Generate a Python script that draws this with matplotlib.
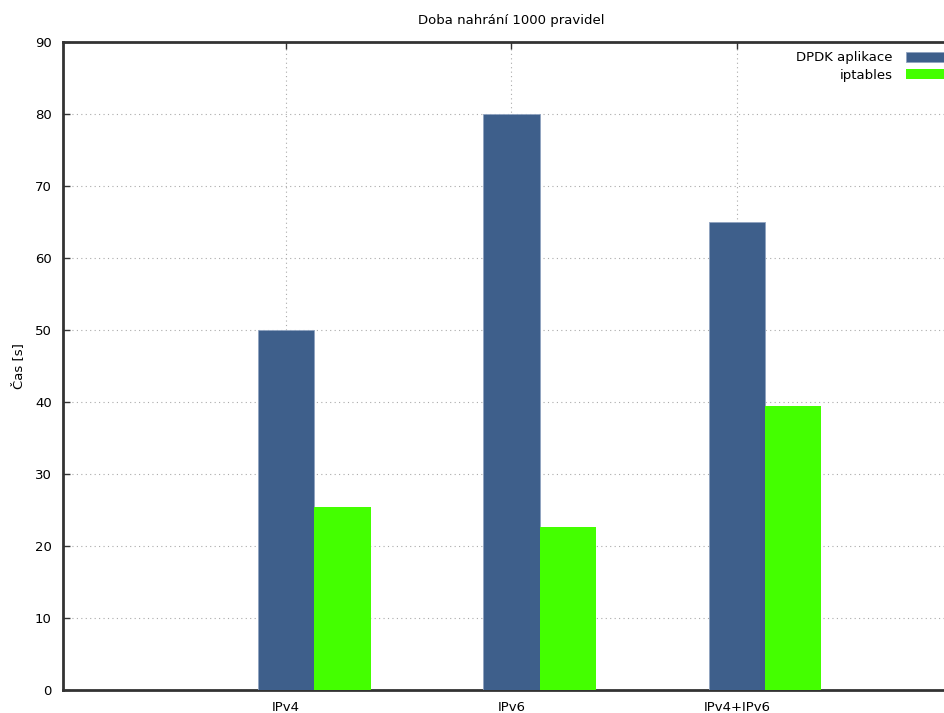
import numpy as np
import matplotlib.pyplot as plt

categories = ["IPv4", "IPv6", "IPv4+IPv6"]
dpdk = [50, 80, 65]
iptables = [25.4, 22.6, 39.4]

x = np.arange(len(categories))
width = 0.25

fig = plt.figure(figsize=(9.45, 7.13), dpi=100)
ax = fig.add_axes([0.0667, 0.0323, 0.949, 0.9088])

ax.bar(x, dpdk, width, color="#3e5f8b", edgecolor="#8fa3c0", linewidth=0.6,
       label="DPDK aplikace", zorder=3)
ax.bar(x + width, iptables, width, color="#44ff00", label="iptables", zorder=3)

ax.set_xlim(-0.99, 2.99)
ax.set_ylim(0, 90)
ax.set_yticks(range(0, 91, 10))
ax.set_xticks(x)
ax.set_xticklabels(categories)

ax.grid(True, linestyle=(0, (1, 3)), color="#aaaaaa", linewidth=0.8, zorder=0)
ax.tick_params(direction="in", length=5, width=1, colors="#333333",
               labelcolor="black", labelsize=9.5, top=True, right=False, pad=8)
for s in ax.spines.values():
    s.set_linewidth(2)
    s.set_color("#333333")
ax.spines["right"].set_visible(False)

ax.set_ylabel("Čas [s]", fontsize=9.5, labelpad=7)
ax.set_title("Doba nahrání 1000 pravidel", fontsize=9.5, pad=13)

ax.legend(loc="upper right", bbox_to_anchor=(0.997, 1.0), frameon=False,
          markerfirst=False, fontsize=9.5, handlelength=3.2, handleheight=0.8,
          labelspacing=0.35, handletextpad=1.0, borderaxespad=0.3)

fig.savefig("out.png", dpi=100)
